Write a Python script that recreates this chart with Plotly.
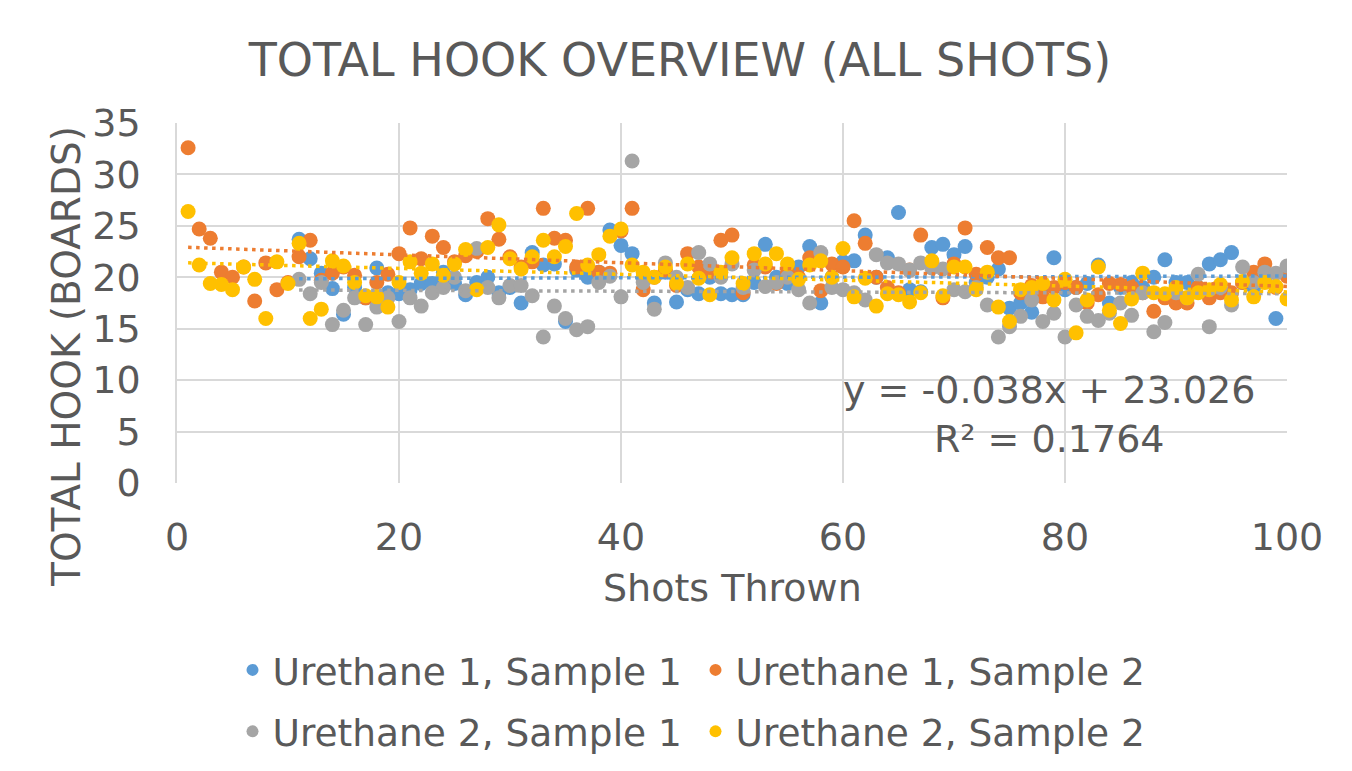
import numpy as np
import plotly.graph_objects as go

# ---- data ----
shots_a = list(range(1, 101))     # Sample 2 series start at shot 1
shots_b = list(range(11, 101))    # Sample 1 series start at shot 11

u1_s1 = [23.7, 21.8, 20.4, 18.9, 16.4, 19.0, 18.0, 20.9, 18.5, 18.4,
         18.8, 19.4, 19.4, 20.5, 19.4, 18.3, 19.5, 20.0, 18.5, 19.0,
         17.5, 22.4, 21.2, 21.3, 15.7, 20.7, 20.0, 20.5, 24.6, 23.1,
         22.3, 20.0, 17.5, 20.5, 17.6, 18.8, 18.4, 20.0, 18.4, 18.3,
         18.3, 19.5, 23.2, 20.0, 19.4, 21.0, 23.0, 17.5, 20.0, 21.5,
         21.6, 24.1, 20.0, 21.9, 26.3, 18.8, 18.6, 22.9, 23.2, 22.2,
         23.0, 19.5, 20.0, 20.8, 17.0, 17.5, 16.6, 19.0, 21.9, 18.8,
         19.0, 19.4, 21.2, 17.5, 19.0, 19.5, 19.0, 20.0, 21.7, 19.5,
         19.5, 19.0, 21.3, 21.7, 22.4, 19.5, 19.0, 20.0, 16.0, 20.5]

u1_s2 = [32.6, 24.7, 23.8, 20.5, 20.0, 21.0, 17.7, 21.4, 18.8, 19.5,
         22.0, 23.6, 19.7, 20.4, 21.0, 20.2, 18.0, 19.5, 20.3, 22.3,
         24.8, 21.8, 24.0, 22.9, 21.5, 22.1, 22.5, 25.7, 23.7, 22.0,
         21.0, 21.5, 26.7, 23.8, 23.6, 21.0, 26.7, 20.5, 20.4, 24.5,
         26.7, 18.8, 20.0, 20.7, 19.2, 22.3, 21.0, 20.5, 23.6, 24.1,
         18.5, 21.2, 21.0, 19.4, 20.5, 20.0, 21.9, 18.7, 21.3, 21.0,
         25.5, 23.3, 20.0, 19.0, 18.5, 20.7, 24.1, 21.5, 18.0, 21.3,
         24.8, 20.3, 22.9, 21.9, 21.9, 18.5, 19.2, 18.1, 19.0, 19.5,
         19.0, 17.5, 18.3, 19.4, 19.3, 19.0, 18.5, 16.7, 18.0, 17.5,
         17.5, 19.0, 18.0, 18.5, 18.5, 19.5, 20.5, 21.3, 19.0, 20.1]

u2_s1 = [19.8, 18.4, 19.5, 15.4, 16.8, 18.0, 15.4, 17.1, 18.0, 15.7,
         18.0, 17.2, 18.5, 19.0, 20.0, 18.7, 22.8, 19.0, 18.0, 19.2,
         19.2, 18.2, 14.2, 17.2, 16.0, 14.9, 15.2, 19.5, 20.1, 18.1,
         31.3, 19.5, 16.9, 21.4, 20.0, 19.0, 22.4, 21.3, 20.0, 21.3,
         19.0, 20.7, 19.1, 19.5, 20.0, 18.8, 17.5, 22.4, 19.0, 18.8,
         18.5, 17.8, 22.2, 21.4, 21.3, 20.7, 21.4, 20.9, 20.8, 18.8,
         18.6, 19.0, 17.3, 14.2, 15.2, 16.2, 17.8, 15.7, 16.5, 14.2,
         17.3, 16.2, 15.8, 16.5, 17.5, 16.3, 18.5, 14.7, 15.6, 18.5,
         18.0, 20.3, 15.2, 19.0, 17.3, 21.0, 19.5, 20.5, 20.4, 21.1]

u2_s2 = [26.4, 21.2, 19.4, 19.3, 18.8, 21.0, 19.8, 16.0, 21.5, 19.4,
         23.3, 16.0, 16.9, 21.6, 21.1, 19.5, 18.2, 18.1, 17.1, 19.5,
         21.5, 20.4, 21.3, 20.2, 21.3, 22.7, 18.8, 22.9, 25.1, 21.8,
         20.8, 22.0, 23.6, 22.0, 23.0, 26.2, 21.2, 22.2, 24.0, 24.7,
         21.2, 20.5, 20.0, 21.0, 19.4, 21.3, 19.9, 18.3, 20.5, 21.9,
         19.4, 22.3, 21.3, 22.3, 21.3, 19.8, 21.2, 21.6, 20.0, 22.8,
         18.1, 19.9, 17.2, 18.4, 18.3, 17.6, 18.5, 21.6, 18.2, 21.0,
         21.0, 18.8, 20.5, 17.1, 15.7, 18.8, 19.0, 19.4, 17.8, 19.8,
         14.6, 17.8, 21.0, 16.8, 15.5, 17.9, 20.4, 18.5, 18.4, 19.0,
         18.0, 18.5, 18.8, 19.3, 17.8, 19.6, 18.1, 19.5, 19.1, 17.9]

series_names = ["Urethane 1, Sample 1", "Urethane 1, Sample 2",
                "Urethane 2, Sample 1", "Urethane 2, Sample 2"]
title_text = "TOTAL HOOK OVERVIEW (ALL SHOTS)"
x_title = "Shots Thrown"
y_title = "TOTAL HOOK (BOARDS)"
equation_text = "y = -0.038x + 23.026<br>R² = 0.1764"

colors = ["#5B9BD5", "#ED7D31", "#A5A5A5", "#FFC000"]
series = [(shots_b, u1_s1), (shots_a, u1_s2), (shots_b, u2_s1), (shots_a, u2_s2)]
legends = ["legend", "legend", "legend2", "legend2"]

TXT = "#595959"
FONT = "DejaVu Sans"
fig = go.Figure()

for (xs, ys), name, col, lg in zip(series, series_names, colors, legends):
    fig.add_trace(go.Scatter(
        x=xs, y=ys, mode="markers", name=name,
        marker=dict(color=col, size=15, line=dict(width=0)),
        legend=lg,
    ))

# linear trendlines
for (xs, ys), col in zip(series, colors):
    xa = np.array(xs, dtype=float)
    ya = np.array(ys, dtype=float)
    m, b = np.polyfit(xa, ya, 1)
    xl = np.array([xa.min(), xa.max()])
    fig.add_trace(go.Scatter(
        x=xl, y=m * xl + b, mode="lines", showlegend=False,
        line=dict(color=col, width=3.5, dash="3.5px,4.5px"), hoverinfo="skip",
    ))

fig.add_annotation(
    x=78.6, y=6.66, xref="x", yref="y", text=equation_text,
    showarrow=False, align="center",
    font=dict(family=FONT, size=38, color=TXT),
)
fig.add_annotation(
    x=-0.0991, y=0.353, xref="paper", yref="paper", text=y_title, textangle=-90,
    showarrow=False, xanchor="center", yanchor="middle",
    font=dict(family=FONT, size=39, color=TXT),
)
fig.add_annotation(
    x=0.5, y=-0.292, xref="paper", yref="paper", text=x_title,
    showarrow=False, xanchor="center", yanchor="middle",
    font=dict(family=FONT, size=38, color=TXT),
)

grid = "#D9D9D9"
leg_common = dict(orientation="h", x=0.05, xanchor="left", yanchor="top",
                  yref="container",
                  itemsizing="constant", entrywidth=418, entrywidthmode="pixels",
                  font=dict(family=FONT, size=37.5, color=TXT), itemwidth=30,
                  bgcolor="rgba(0,0,0,0)")
fig.update_layout(
    width=1344, height=763,
    paper_bgcolor="white", plot_bgcolor="white",
    margin=dict(l=169, r=65, t=115, b=288),
    font=dict(family=FONT, color=TXT),
    title=dict(text=title_text, x=0.5, xref="container", xanchor="center",
               y=0.932, yref="container", yanchor="middle",
               font=dict(family=FONT, size=46, color=TXT)),
    xaxis=dict(range=[0, 100], dtick=20, showgrid=True, gridcolor=grid, gridwidth=1.5,
               zeroline=False, showline=False, ticks="outside", ticklen=20,
               tickcolor="rgba(0,0,0,0)", automargin=False,
               tickfont=dict(family=FONT, size=38, color=TXT)),
    yaxis=dict(range=[0, 35], dtick=5, showgrid=True, gridcolor=grid, gridwidth=1.5,
               zeroline=False, showline=True, linecolor=grid, linewidth=1.5,
               ticks="outside", ticklen=27, tickcolor="rgba(0,0,0,0)", automargin=False,
               tickfont=dict(family=FONT, size=38, color=TXT)),
    legend=dict(y=0.1730, **leg_common),
    legend2=dict(y=0.0924, **leg_common),
    showlegend=True,
)

fig.write_html("out.html")
